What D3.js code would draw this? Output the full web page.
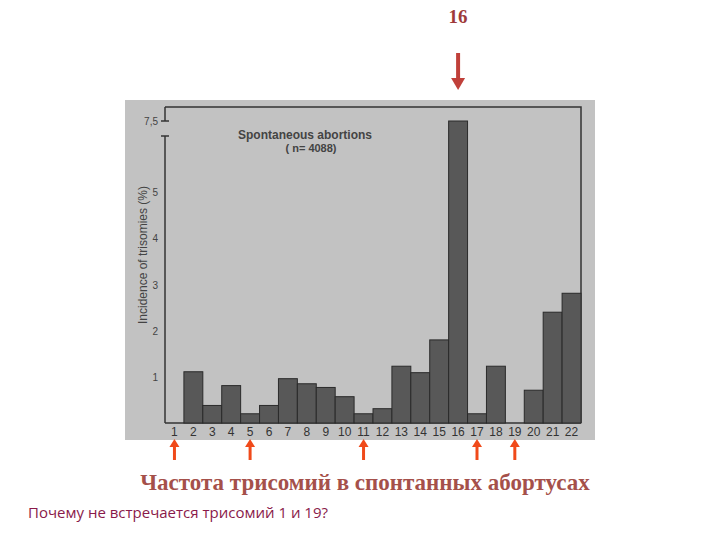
<!DOCTYPE html>
<html><head><meta charset="utf-8">
<script src="https://cdn.jsdelivr.net/npm/d3@7"></script>
<style>body{margin:0;background:#fff}</style></head>
<body><svg id="c" width="720" height="540"></svg>
<script>
const categories = ["1","2","3","4","5","6","7","8","9","10","11","12","13","14","15","16","17","18","19","20","21","22"];
const values = [0,1.11,0.38,0.81,0.2,0.38,0.96,0.85,0.77,0.57,0.2,0.31,1.23,1.09,1.8,7.5,0.2,1.23,0,0.71,2.4,2.81];
const yTicks = [1,2,3,4,5,7.5];
const arrowed = ["1","5","11","17","19"];

const svg = d3.select("#c");
svg.append("rect").attr("x",125).attr("y",100).attr("width",470).attr("height",340).attr("fill","#c2c2c2");
const x = d3.scaleBand().domain(categories).range([165,581]).padding(0);
const y = d3.scaleLinear().domain([0,6,7.5]).range([423,146,121]);
svg.append("path").attr("d","M165,107H581V423").attr("fill","none").attr("stroke","#333").attr("stroke-width",1.5);
svg.append("line").attr("x1",165).attr("x2",581).attr("y1",423).attr("y2",423).attr("stroke","#333").attr("stroke-width",1.5);
svg.append("line").attr("x1",165).attr("x2",165).attr("y1",423).attr("y2",136).attr("stroke","#333").attr("stroke-width",1.5);
svg.append("line").attr("x1",165).attr("x2",165).attr("y1",121).attr("y2",107).attr("stroke","#333").attr("stroke-width",1.5);
[121,136].forEach(v=>svg.append("line").attr("x1",161).attr("x2",169).attr("y1",v).attr("y2",v).attr("stroke","#333").attr("stroke-width",1.5));
svg.selectAll(".bar").data(values).join("rect")
 .attr("x",(d,i)=>x(categories[i])).attr("width",x.bandwidth())
 .attr("y",d=>y(d)).attr("height",d=>423-y(d))
 .attr("fill","#585858").attr("stroke","#2a2a2a").attr("stroke-width",1);
svg.selectAll(".yt").data(yTicks).join("text")
 .attr("x",158).attr("y",d=>y(d)+4).attr("text-anchor","end")
 .attr("font-family","Liberation Sans, Arial").attr("font-size",10).attr("fill","#444")
 .text(d=>String(d).replace(".",","));
svg.selectAll(".xt").data(categories).join("text")
 .attr("x",d=>x(d)+x.bandwidth()/2).attr("y",436).attr("text-anchor","middle")
 .attr("font-family","Liberation Sans, Arial").attr("font-size",12).attr("fill","#333")
 .text(d=>d);
svg.append("text").attr("transform","translate(147,255) rotate(-90)").attr("text-anchor","middle")
 .attr("font-family","Liberation Sans, Arial").attr("font-size",12).attr("fill","#444")
 .text("Incidence of trisomies (%)");
svg.append("text").attr("x",305).attr("y",139).attr("text-anchor","middle")
 .attr("font-family","Liberation Sans, Arial").attr("font-weight","bold").attr("font-size",12).attr("fill","#444")
 .text("Spontaneous abortions");
svg.append("text").attr("x",311).attr("y",152).attr("text-anchor","middle")
 .attr("font-family","Liberation Sans, Arial").attr("font-weight","bold").attr("font-size",11).attr("fill","#444")
 .text("( n= 4088)");
function arrow(cx,y1,y2,col,w,hw,hh){
  svg.append("line").attr("x1",cx).attr("x2",cx).attr("y1",y2).attr("y2",y1+hh).attr("stroke",col).attr("stroke-width",w);
  svg.append("path").attr("d",`M${cx-hw},${y1+hh}L${cx},${y1}L${cx+hw},${y1+hh}Z`).attr("fill",col);
}
arrowed.forEach(c=>arrow(x(c)+x.bandwidth()/2,439,460,"#f04a1a",3,5,8));
const tx = x("16")+x.bandwidth()/2;
svg.append("line").attr("x1",tx).attr("x2",tx).attr("y1",53).attr("y2",80).attr("stroke","#c0403a").attr("stroke-width",4);
svg.append("path").attr("d",`M${tx-7},78L${tx},90L${tx+7},78Z`).attr("fill","#c0403a");
svg.append("text").attr("x",tx).attr("y",23).attr("text-anchor","middle")
 .attr("font-family","Liberation Serif, Times New Roman").attr("font-weight","bold").attr("font-size",19).attr("fill","#9e3a3a").text("16");
svg.append("text").attr("x",365).attr("y",490).attr("text-anchor","middle")
 .attr("font-family","Liberation Serif, Times New Roman").attr("font-weight","bold").attr("font-size",23).attr("fill","#a5504a")
 .text("Частота трисомий в спонтанных абортусах");
svg.append("text").attr("x",28).attr("y",518)
 .attr("font-family","Open Sans, DejaVu Sans").attr("font-size",15).attr("fill","#8a1a4a")
 .text("Почему не встречается трисомий 1 и 19?");
</script></body></html>
